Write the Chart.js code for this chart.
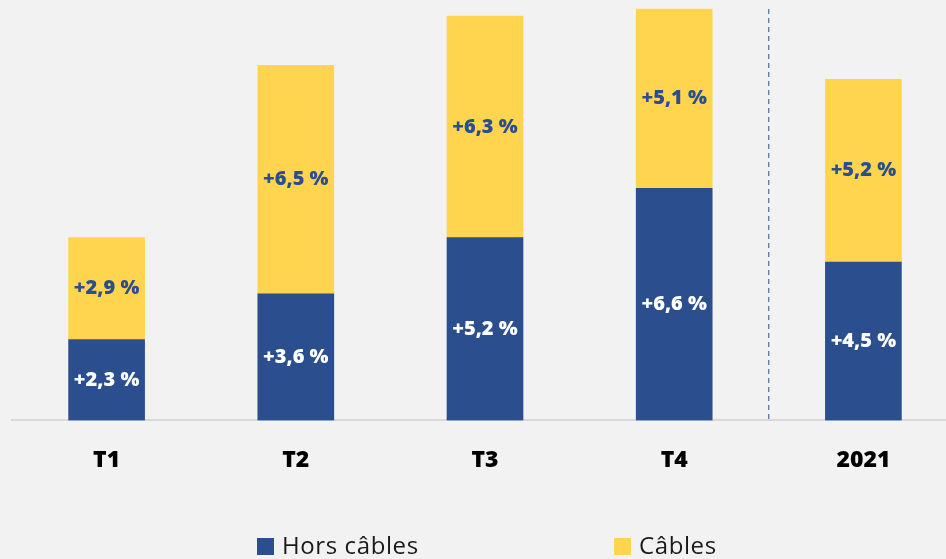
<!DOCTYPE html>
<html>
<head>
<meta charset="utf-8">
<script src="https://cdn.jsdelivr.net/npm/chart.js@4"></script>
<style>
    html, body { margin: 0; padding: 0; background: #f2f2f2; overflow: hidden; }
    #wrap { position: relative; width: 946px; height: 559px; overflow: hidden; }
    #chartBox { position: absolute; left: 0; top: 0; width: 958px; height: 559px; }
    .legend { position: absolute; top: 530px; font-family: "Open Sans", sans-serif; font-size: 24px; letter-spacing: 0.6px; color: #1a1a1a; line-height: 30px; }
    .legend span.box { display: inline-block; width: 17px; height: 17px; margin-right: 8px; vertical-align: -1px; }
</style>
</head>
<body>
<div id="wrap">
    <div id="chartBox"><canvas id="barChart"></canvas></div>
    <div class="legend" style="left:257px"><span class="box" style="background:#2b4f8e"></span>Hors câbles</div>
    <div class="legend" style="left:614px"><span class="box" style="background:#ffd54f"></span>Câbles</div>
</div>
<script>
const categories = ['T1', 'T2', 'T3', 'T4', '2021'];
const horsCables = [2.3, 3.6, 5.2, 6.6, 4.5];
const cables = [2.9, 6.5, 6.3, 5.1, 5.2];

const blue = '#2b4f8e';
const yellow = '#ffd54f';

function fmt(v) {
    return '+' + v.toFixed(1).replace('.', ',') + ' %';
}

// labels inside each segment
const segmentLabels = {
    id: 'segmentLabels',
    afterDatasetsDraw(chart) {
        const ctx = chart.ctx;
        ctx.save();
        ctx.font = '800 20px "Open Sans", sans-serif';
        ctx.textAlign = 'center';
        ctx.textBaseline = 'middle';
        chart.data.datasets.forEach((ds, i) => {
            const meta = chart.getDatasetMeta(i);
            meta.data.forEach((bar, j) => {
                const mid = (bar.y + bar.base) / 2;
                ctx.fillStyle = i === 0 ? '#ffffff' : blue;
                ctx.fillText(fmt(ds.data[j]), bar.x, mid);
            });
        });
        ctx.restore();
    }
};

// dashed separator before the yearly bar
const separator = {
    id: 'separator',
    afterDatasetsDraw(chart) {
        const x = chart.scales.x;
        const y = chart.scales.y;
        const px = (x.getPixelForValue(3) + x.getPixelForValue(4)) / 2;
        const ctx = chart.ctx;
        ctx.save();
        ctx.strokeStyle = blue;
        ctx.lineWidth = 1;
        ctx.setLineDash([5, 4]);
        ctx.beginPath();
        ctx.moveTo(px, 9);
        ctx.lineTo(px, y.bottom);
        ctx.stroke();
        ctx.restore();
    }
};

new Chart(document.getElementById('barChart'), {
    type: 'bar',
    data: {
        labels: categories,
        datasets: [{
            label: 'Hors câbles',
            data: horsCables,
            backgroundColor: blue,
            barThickness: 76
        }, {
            label: 'Câbles',
            data: cables,
            backgroundColor: yellow,
            barThickness: 76
        }]
    },
    options: {
        responsive: true,
        maintainAspectRatio: false,
        animation: false,
        layout: { padding: { top: 2, left: 12, right: 0, bottom: 67 } },
        plugins: {
            legend: { display: false },
            tooltip: { enabled: false }
        },
        scales: {
            x: {
                stacked: true,
                grid: { display: false },
                border: { display: true, color: '#d9d9d9', width: 2 },
                ticks: {
                    color: '#000000',
                    padding: 18,
                    font: { family: '"Open Sans", sans-serif', size: 23, weight: '800' }
                }
            },
            y: {
                stacked: true,
                display: false,
                min: 0,
                max: 11.9
            }
        }
    },
    plugins: [segmentLabels, separator]
});
</script>
</body>
</html>
